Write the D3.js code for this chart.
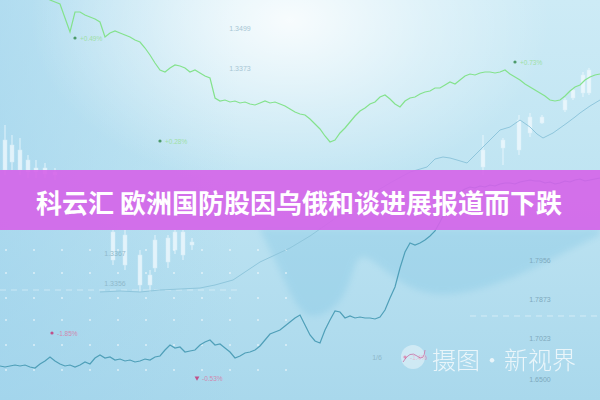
<!DOCTYPE html>
<html><head><meta charset="utf-8">
<script src="https://cdn.jsdelivr.net/npm/d3@7"></script>
<style>html,body{margin:0;padding:0;background:#c3e6f3;overflow:hidden}svg{display:block}</style>
</head><body><div id="chart"></div>
<script>
// ---------- data (day index, level) ----------
const title = "科云汇 欧洲国防股因乌俄和谈进展报道而下跌";
const watermark = "摄图·新视界";
// green series: starts at day 9, one value per day
const greenStart = 9;
const greenValues = [403,400,398,396,382,368,388,388,385,383,381,378,363,367,369,367,365,363,360,358,352,345,337,330,328,332,335,334,332,328,330,327,324,322,302,299,300,298,299,297,298,296,295,297,299,297,298,296,294,291,288,286,285,281,276,271,264,258,260,267,272,278,284,289,292,296,298,303,305,301,296,293,299,302,303,306,308,309,312,312,315,318,316,320,324,326,325,327,328,328,327,328,330,326,323,320,316,313,310,307,304,300,299,300,304,309,313,315,320,323,325,326];
// dark blue series: starts at day 0
const blueValues = [34,33,34,35,34,35,33,32,36,39,43,39,36,34,35,33,35,38,36,42,45,42,43,40,41,39,40,38,39,41,40,43,44,50,55,52,53,48,49,50,55,58,60,55,56,52,48,42,44,47,48,50,54,60,66,68,70,74,78,82,85,75,65,59,57,70,80,89,88,82,84,82,83,82,82,81,83,90,102,113,132,148,157,155,157,160,164,169,178,188,196,203,208,211,213,212,214,213,215,214,216,217,217,216,218,219,220,219,219,217,218,216,217,219,218,220,221,219,220,221,222];
// light blue series: irregular days
const lightDays = [20,24,28,32,36,40,43,46.6,49,52,55,58,62,66,70,74,78,82,85.4,87,88.6,90,91.4,93.4,95,96.6,98,100,102,104,106,107.4,108.6,110.6,112,113.4,115,116,118,120];
const lightValues = [108,109,108,110,111,112,115,120,128,138,145,152,164,178,192,205,217,228,233,241,243,242,240,237,245,253,260,270,273,280,273,266,262,267,272,277,283,287,294,300];
// candlesticks: day, open, close, high, low
const candleDay   = [1,2.4,4,5.6,7.2,9,11, 22.6,25,28,30,31,33.6,35,36.6,38.4, 96.6,100.6,103.8,106,108.4,113,114.6,116.6,117.8];
const candleOpen  = [260,255,250,240,232,232,228, 168,165,145,125,160,162,168,168,158, 250,260,280,283,283,300,310,325,330];
const candleClose = [230,238,230,228,228,226,225, 140,135,115,115,132,138,150,145,155, 233,252,250,267,277,290,302,307,307];
const candleHigh  = [275,265,262,245,240,237,232, 170,170,150,130,165,165,170,170,162, 265,262,285,287,285,302,312,328,332];
const candleLow   = [225,230,225,222,222,222,220, 135,130,108,108,128,132,146,140,150, 225,235,245,263,276,288,300,303,305];
// axis tick labels
const topTicks = [["1.3499",372],["1.3373",332]];
const leftTicks = [["1.3367",147],["1.3356",117]];
const rightTicks = [["1.7956",140],["1.7873",101],["1.7023",62],["1.6500",21]];
const greenTags = [["+0.49%",15,362],["+0.28%",32,259],["+0.73%",103,338]];
const pinkTags = [["-1.85%",10.4,67,"dot"],["-0.53%",39.4,22,"tri"],["-1.4%",81,43,"dot"]];
// translucent cloud boundary
const cloudDays = [52,56,60,64,69,71,72.4,75,78,82,86,90,96,104,112,120];
const cloudValues = [170,130,84,82,100,138,145,138,125,112,106,105,110,125,145,165];

// ---------- drawing ----------
const W = 600, H = 400;
const x = d3.scaleLinear().domain([0,120]).range([0,W]);
const y = d3.scaleLinear().domain([0,400]).range([H,0]);
const svg = d3.select("#chart").append("svg").attr("width",W).attr("height",H);
const defs = svg.append("defs");
const lg = defs.append("linearGradient").attr("id","bg").attr("x1",0).attr("y1",0).attr("x2",0).attr("y2",1);
lg.append("stop").attr("offset","0%").attr("stop-color","#cdebf6");
lg.append("stop").attr("offset","45%").attr("stop-color","#bfe4f2");
lg.append("stop").attr("offset","100%").attr("stop-color","#a9d8ec");
svg.append("rect").attr("width",W).attr("height",H).attr("fill","url(#bg)");
const lg2 = defs.append("linearGradient").attr("id","side").attr("x1",0).attr("y1",0).attr("x2",1).attr("y2",0);
lg2.append("stop").attr("offset","0%").attr("stop-color","#9fd3ec").attr("stop-opacity",0.6);
lg2.append("stop").attr("offset","40%").attr("stop-color","#9fd3ec").attr("stop-opacity",0);
svg.append("rect").attr("width",W).attr("height",H).attr("fill","url(#side)");
const rg = defs.append("radialGradient").attr("id","glow").attr("cx",0.5).attr("cy",0.5).attr("r",0.5);
rg.append("stop").attr("offset","0%").attr("stop-color","#ffffff").attr("stop-opacity",0.85);
rg.append("stop").attr("offset","55%").attr("stop-color","#ffffff").attr("stop-opacity",0.35);
rg.append("stop").attr("offset","100%").attr("stop-color","#ffffff").attr("stop-opacity",0);
svg.append("ellipse").attr("cx",290).attr("cy",20).attr("rx",260).attr("ry",170).attr("fill","url(#glow)");
defs.append("filter").attr("id","soft").append("feGaussianBlur").attr("stdDeviation",3);

// cloud
const cloudArea = d3.area().x((d,i)=>x(cloudDays[i])).y0(y(172)).y1((d)=>y(d)).curve(d3.curveBasis);
svg.append("path").datum(cloudValues).attr("d",cloudArea).attr("fill","#7cc3e2").attr("opacity",0.32).attr("filter","url(#soft)");

// grid dots and dashed lines
const g = svg.append("g").attr("opacity",0.45);
d3.range(0,11).forEach(i=>{
  [250,273,298,320,345,370].forEach(r=>{
    g.append("rect").attr("x",x(1.2+i*5.6)-1).attr("y",r-1).attr("width",2).attr("height",2).attr("fill","#fff");
  });
});
svg.append("line").attr("x1",x(0)).attr("x2",x(48)).attr("y1",y(110)).attr("y2",y(110)).attr("stroke","#fff").attr("stroke-dasharray","6,5").attr("opacity",0.4);
svg.append("line").attr("x1",x(94)).attr("x2",x(120)).attr("y1",y(84)).attr("y2",y(84)).attr("stroke","#fff").attr("stroke-dasharray","6,5").attr("opacity",0.45);

// candles
const cg = svg.append("g").attr("opacity",0.75);
candleDay.forEach((d,i)=>{
  cg.append("line").attr("x1",x(d)).attr("x2",x(d)).attr("y1",y(candleHigh[i])).attr("y2",y(candleLow[i])).attr("stroke","#f4fbff").attr("stroke-width",1);
  const t = Math.max(candleOpen[i],candleClose[i]), b = Math.min(candleOpen[i],candleClose[i]);
  cg.append("rect").attr("x",x(d)-2).attr("y",y(t)).attr("width",4).attr("height",y(b)-y(t)).attr("fill","#f4fbff").attr("stroke","#e0f2fa").attr("stroke-width",0.5);
});

// lines
const lineG = d3.line().x((d,i)=>x(greenStart+i)).y(d=>y(d));
svg.append("path").datum(greenValues).attr("d",lineG).attr("fill","none").attr("stroke","#84e28c").attr("stroke-width",1.2);
const lineL = d3.line().x((d,i)=>x(lightDays[i])).y(d=>y(d));
svg.append("path").datum(lightValues).attr("d",lineL).attr("fill","none").attr("stroke","#8fc6dc").attr("stroke-width",1);
const lineB = d3.line().x((d,i)=>x(i)).y(d=>y(d));
svg.append("path").datum(blueValues).attr("d",lineB).attr("fill","none").attr("stroke","#4f9fb8").attr("stroke-width",1.2);

// tick labels
const tf = "Liberation Sans, Arial, sans-serif";
topTicks.forEach(t=>svg.append("text").attr("x",x(48)).attr("y",y(t[1])).attr("text-anchor","middle").attr("dominant-baseline","central").attr("font-family",tf).attr("font-size",7).attr("fill","#a8c6d4").text(t[0]));
leftTicks.forEach(t=>svg.append("text").attr("x",x(23)).attr("y",y(t[1])).attr("text-anchor","middle").attr("dominant-baseline","central").attr("font-family",tf).attr("font-size",7).attr("fill","#8fb9cb").text(t[0]));
rightTicks.forEach(t=>svg.append("text").attr("x",x(108)).attr("y",y(t[1])).attr("text-anchor","middle").attr("dominant-baseline","central").attr("font-family",tf).attr("font-size",7).attr("fill","#7fa9bd").text(t[0]));
svg.append("text").attr("x",x(75.4)).attr("y",y(43)).attr("text-anchor","middle").attr("dominant-baseline","central").attr("font-family",tf).attr("font-size",7).attr("fill","#8fb9cb").text("1/6");
greenTags.forEach(t=>{
  svg.append("circle").attr("cx",x(t[1])).attr("cy",y(t[2])).attr("r",1.6).attr("fill","#4c9a6a");
  svg.append("text").attr("x",x(t[1])+5).attr("y",y(t[2])).attr("dominant-baseline","central").attr("font-family",tf).attr("font-size",6.5).attr("fill","#9ee0a6").text(t[0]);
});
pinkTags.forEach(t=>{
  if(t[3]==="dot") svg.append("circle").attr("cx",x(t[1])).attr("cy",y(t[2])).attr("r",1.6).attr("fill","#c0508a");
  else svg.append("path").attr("d",d3.symbol(d3.symbolTriangle,10)()).attr("transform",`translate(${x(t[1])},${y(t[2])}) rotate(180)`).attr("fill","#c0508a");
  svg.append("text").attr("x",x(t[1])+5).attr("y",y(t[2])).attr("dominant-baseline","central").attr("font-family",tf).attr("font-size",6.5).attr("fill","#d08ab0").text(t[0]);
});

// watermark
const wm = svg.append("g").attr("opacity",0.75);
wm.append("circle").attr("cx",413).attr("cy",357).attr("r",12).attr("fill","#ffffff").attr("opacity",0.55);
wm.append("path").attr("d","M403,362 Q410,350 417,356 T425,350").attr("fill","none").attr("stroke","#d46aa0").attr("stroke-width",1);
wm.append("text").attr("x",432).attr("y",369).attr("font-family","Noto Sans CJK SC").attr("font-weight",300).attr("font-size",24).attr("fill","#ffffff").text(watermark);

// banner
svg.append("rect").attr("x",0).attr("y",170).attr("width",W).attr("height",60).attr("fill","#d563e9").attr("opacity",0.9);
svg.append("text").attr("x",36).attr("y",213).attr("font-family","Noto Sans CJK SC").attr("font-weight",700).attr("font-size",26).attr("fill","#ffffff").text(title);
</script></body></html>
